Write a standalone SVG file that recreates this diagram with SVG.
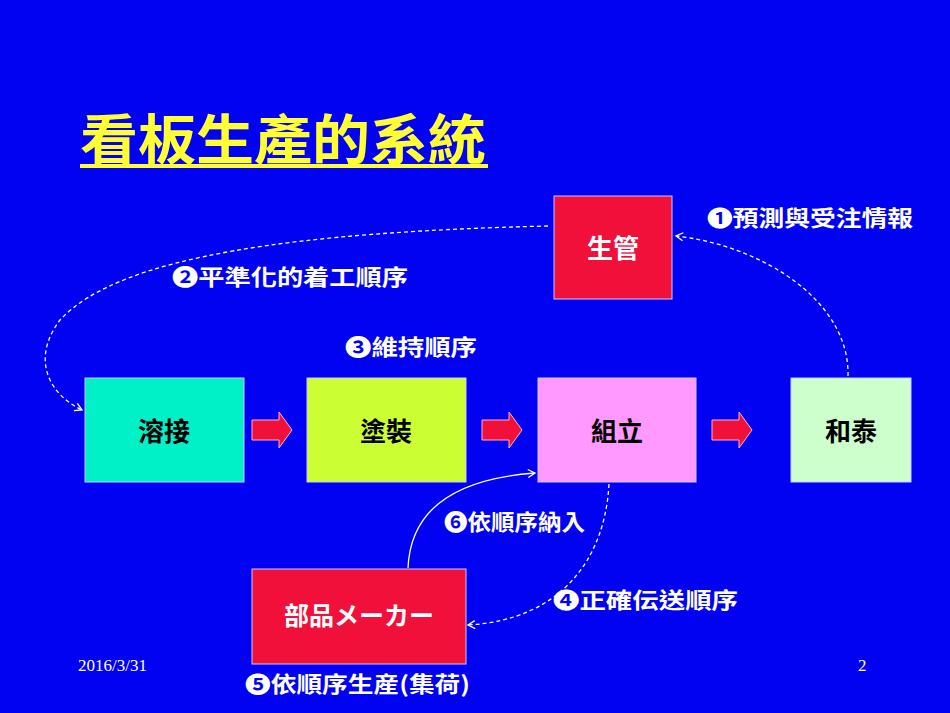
<svg xmlns="http://www.w3.org/2000/svg" width="950" height="713" viewBox="0 0 950 713">
<style>
.t{font-family:"Noto Sans CJK TC","Noto Sans CJK JP",sans-serif;font-weight:bold}
.lbl{font-family:"Noto Sans CJK TC","Noto Sans CJK JP",sans-serif;font-weight:bold;fill:#fff;font-size:22px}
.box{stroke:#c8c8ff;stroke-width:1}
.dash{fill:none;stroke:#fff;stroke-width:1.3;stroke-dasharray:4 3}
.ra{fill:#f0103a;stroke:#ffb0c0;stroke-width:1}
.ft{font-family:"Liberation Serif",serif;fill:#fff;font-size:17px}
</style>
<defs>
<marker id="ah" markerWidth="10" markerHeight="10" refX="8" refY="5" orient="auto" markerUnits="userSpaceOnUse"><path d="M1,1 L8,5 L1,9" fill="none" stroke="#fff" stroke-width="1.3"/></marker>
</defs>
<rect width="950" height="713" fill="#0202f2"/>
<text x="80" y="160" class="t" font-size="54" fill="#ffff33" textLength="406" lengthAdjust="spacingAndGlyphs">看板生產的系統</text>
<rect x="80" y="164" width="408" height="4" fill="#ffff33"/>
<g id="connectors">
<path class="dash" d="M548,226 C300,232 120,255 60,320 C30,360 50,395 82,410" marker-end="url(#ah)"/>
<path class="dash" d="M848,376 C850,300 760,245 676,236" marker-end="url(#ah)"/>
<path class="dash" d="M609,484 C605,560 560,620 468,625" marker-end="url(#ah)"/>
<path d="M408,568 C410,520 440,480 535,473" fill="none" stroke="#fff" stroke-width="1.3" marker-end="url(#ah)"/>
<path class="ra" d="M252,420 h27 v-8 l13,18 l-13,18 v-8 h-27 z"/>
<path class="ra" d="M482,420 h27 v-8 l13,18 l-13,18 v-8 h-27 z"/>
<path class="ra" d="M712,420 h27 v-8 l13,18 l-13,18 v-8 h-27 z"/>
</g>
<g id="n-seikan"><rect class="box" x="554" y="196" width="118" height="103" fill="#f0103a"/><text x="613" y="258" class="t" font-size="26" fill="#fff" text-anchor="middle">生管</text></g>
<g id="n-yousetsu"><rect class="box" x="85" y="378" width="159" height="104" fill="#00f0c8"/><text x="164" y="441" class="t" font-size="26" fill="#000" text-anchor="middle">溶接</text></g>
<g id="n-tosou"><rect class="box" x="307" y="378" width="159" height="104" fill="#ccff33"/><text x="386" y="441" class="t" font-size="26" fill="#000" text-anchor="middle">塗裝</text></g>
<g id="n-kumitate"><rect class="box" x="538" y="378" width="158" height="104" fill="#ff99ff"/><text x="617" y="441" class="t" font-size="26" fill="#000" text-anchor="middle">組立</text></g>
<g id="n-wataku"><rect class="box" x="791" y="378" width="120" height="104" fill="#ccffcc"/><text x="851" y="441" class="t" font-size="26" fill="#000" text-anchor="middle">和泰</text></g>
<g id="n-buhin"><rect class="box" x="252" y="569" width="214" height="95" fill="#f0103a"/><text x="359" y="625" class="t" font-size="25" fill="#fff" text-anchor="middle">部品メーカー</text></g>
<text x="707" y="226" class="lbl" textLength="206" lengthAdjust="spacingAndGlyphs">❶預測與受注情報</text>
<text x="172" y="285" class="lbl" textLength="236" lengthAdjust="spacingAndGlyphs">❷平準化的着工順序</text>
<text x="345" y="355" class="lbl" textLength="132" lengthAdjust="spacingAndGlyphs">❸維持順序</text>
<text x="553" y="608" class="lbl" textLength="185" lengthAdjust="spacingAndGlyphs">❹正確伝送順序</text>
<text x="245" y="692" class="lbl" textLength="225" lengthAdjust="spacingAndGlyphs">❺依順序生産(集荷)</text>
<text x="444" y="530" class="lbl" textLength="141" lengthAdjust="spacingAndGlyphs">❻依順序納入</text>
<text x="78" y="671" class="ft">2016/3/31</text>
<text x="858" y="671" class="ft">2</text>
</svg>
